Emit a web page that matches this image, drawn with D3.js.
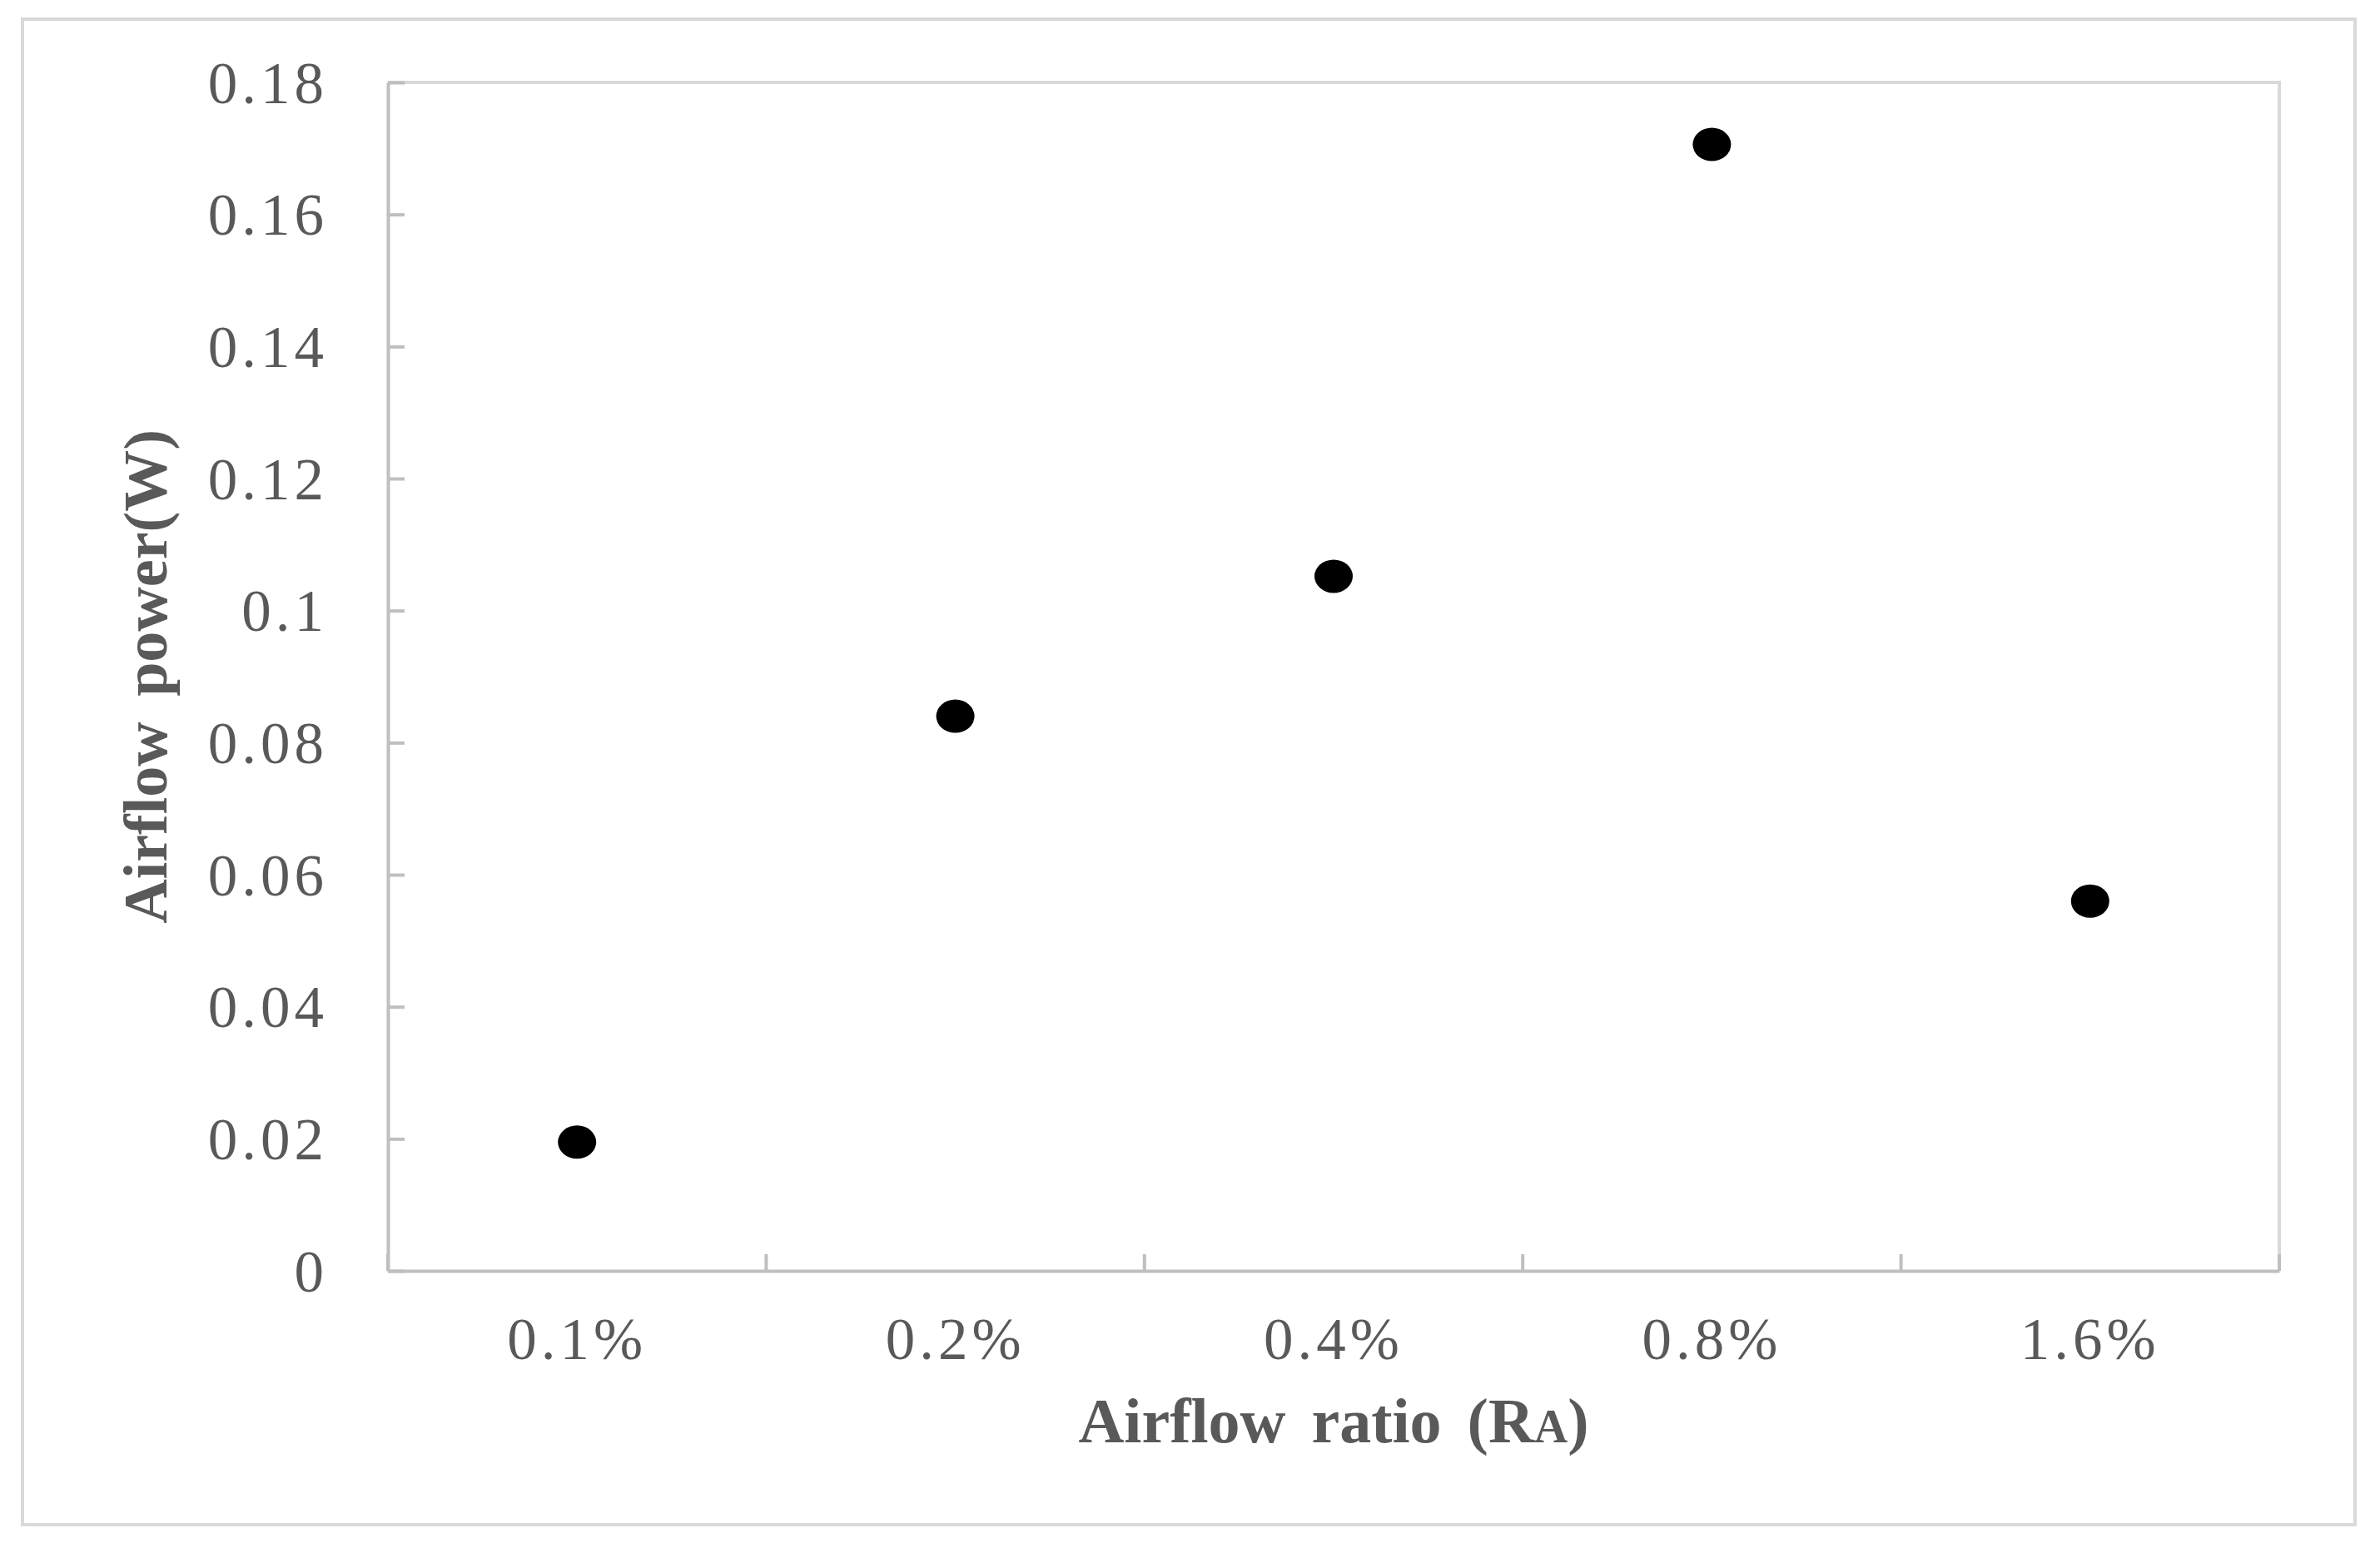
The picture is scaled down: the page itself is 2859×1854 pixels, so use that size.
<!DOCTYPE html>
<html>
<head>
<meta charset="utf-8">
<script src="https://cdn.jsdelivr.net/npm/d3@7"></script>
<style>
  html, body { margin: 0; padding: 0; background: #ffffff; }
  svg { display: block; }
</style>
</head>
<body>
<svg id="chart" width="2859" height="1854"></svg>
<script>
// ---- data ----
const categories = ["0.1%", "0.2%", "0.4%", "0.8%", "1.6%"];
const values = [0.0195, 0.0840, 0.1052, 0.1706, 0.0560];
const yTicks = [0, 0.02, 0.04, 0.06, 0.08, 0.1, 0.12, 0.14, 0.16, 0.18];
const yTickLabels = ["0", "0.02", "0.04", "0.06", "0.08", "0.1", "0.12", "0.14", "0.16", "0.18"];
const xTitle = "Airflow ratio (R";
const xTitleSub = "A";
const xTitleEnd = ")";
const yTitle = "Airflow power(W)";

// ---- layout ----
const W = 2859, H = 1854;
const plot = { left: 466, right: 2738, top: 99, bottom: 1527 };
const svg = d3.select("#chart");

// outer frame
svg.append("rect")
  .attr("x", 27).attr("y", 23)
  .attr("width", 2829 - 27).attr("height", 1832 - 23)
  .attr("fill", "#ffffff")
  .attr("stroke", "#d9d9d9").attr("stroke-width", 4);

const x = d3.scaleBand().domain(categories)
  .range([plot.left, plot.right]).paddingInner(0).paddingOuter(0);
const y = d3.scaleLinear().domain([0, 0.18]).range([plot.bottom, plot.top]);

// plot area top & right borders
svg.append("path")
  .attr("d", `M${plot.left},${plot.top}H${plot.right}V${plot.bottom}`)
  .attr("fill", "none").attr("stroke", "#d9d9d9").attr("stroke-width", 4);

const labelFont = "'Liberation Serif', 'Times New Roman', serif";

// y axis
const yAxis = d3.axisLeft(y)
  .tickValues(yTicks)
  .tickFormat((d, i) => yTickLabels[i])
  .tickSizeInner(-20).tickSizeOuter(0).tickPadding(72);
const gy = svg.append("g").attr("transform", `translate(${plot.left},0)`).call(yAxis);
gy.select(".domain").attr("stroke", "#bfbfbf").attr("stroke-width", 4);
gy.selectAll(".tick line").attr("stroke", "#bfbfbf").attr("stroke-width", 4);
gy.selectAll(".tick text")
  .attr("font-family", labelFont).attr("font-size", 71)
  .attr("letter-spacing", 5)
  .attr("fill", "#595959").attr("dy", "0.34em");

// x axis (labels at category centers, ticks at boundaries)
const xAxis = d3.axisBottom(x).tickSize(0).tickPadding(56);
const gx = svg.append("g").attr("transform", `translate(0,${plot.bottom})`).call(xAxis);
gx.select(".domain").attr("stroke", "#bfbfbf").attr("stroke-width", 4);
gx.selectAll(".tick text")
  .attr("font-family", labelFont).attr("font-size", 71)
  .attr("letter-spacing", 5)
  .attr("fill", "#595959").attr("dy", "0.71em");

// boundary ticks (inward / upward)
const boundaries = categories.map(c => x(c)).concat([x(categories[categories.length - 1]) + x.bandwidth()]);
svg.append("g").selectAll("line").data(boundaries).join("line")
  .attr("x1", d => d).attr("x2", d => d)
  .attr("y1", plot.bottom).attr("y2", plot.bottom - 20)
  .attr("stroke", "#bfbfbf").attr("stroke-width", 4);

// points
svg.append("g").selectAll("ellipse").data(values).join("ellipse")
  .attr("cx", (d, i) => x(categories[i]) + x.bandwidth() / 2)
  .attr("cy", d => y(d))
  .attr("rx", 23).attr("ry", 20)
  .attr("fill", "#000000");

// titles
const titleFont = "'Liberation Serif', 'Times New Roman', serif";
const xt = svg.append("text")
  .attr("x", (plot.left + plot.right) / 2).attr("y", 1733)
  .attr("text-anchor", "middle")
  .attr("font-family", titleFont).attr("font-weight", "bold")
  .attr("font-size", 76).attr("fill", "#595959")
  .attr("word-spacing", 12);
xt.append("tspan").text(xTitle);
xt.append("tspan").attr("font-size", 56).text(xTitleSub);
xt.append("tspan").text(xTitleEnd);

svg.append("text")
  .attr("transform", `translate(200,${(plot.top + plot.bottom) / 2}) rotate(-90)`)
  .attr("text-anchor", "middle")
  .attr("font-family", titleFont).attr("font-weight", "bold")
  .attr("font-size", 74).attr("fill", "#595959")
  .attr("word-spacing", 12)
  .text(yTitle);
</script>
</body>
</html>
